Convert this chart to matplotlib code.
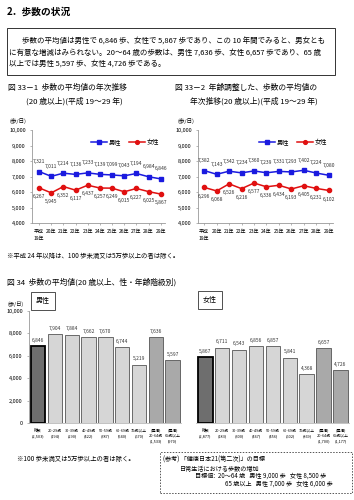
import matplotlib.pyplot as plt
from matplotlib.patches import Rectangle

plt.rcParams['font.family'] = ['Noto Sans CJK JP', 'DejaVu Sans']

# 図33-1 / 33-2 data
years = ['平成\n19年', '20年', '21年', '22年', '23年', '24年', '25年', '26年', '27年', '28年', '29年']
men_raw = [7321, 7011, 7214, 7136, 7233, 7139, 7099, 7043, 7194, 6984, 6846]
women_raw = [6267, 5945, 6352, 6117, 6437, 6257, 6249, 6015, 6227, 6025, 5867]
men_adj = [7382, 7143, 7342, 7234, 7360, 7239, 7331, 7293, 7402, 7224, 7080]
women_adj = [6296, 6068, 6526, 6216, 6577, 6336, 6434, 6193, 6405, 6231, 6102]

# 図34 data
men_groups = ['総数\n(2,503)', '20-29歳\n(194)', '30-39歳\n(290)', '40-49歳\n(422)',
              '50-59歳\n(387)', '60-69歳\n(540)', '70歳以上\n(670)',
              '(再掲)\n20-64歳\n(1,533)', '(再掲)\n65歳以上\n(970)']
women_groups = ['総数\n(2,877)', '20-29歳\n(183)', '30-39歳\n(300)', '40-49歳\n(467)',
                '50-59歳\n(456)', '60-69歳\n(602)', '70歳以上\n(869)',
                '(再掲)\n20-64歳\n(1,700)', '(再掲)\n65歳以上\n(1,177)']
men_steps = [6846, 7904, 7884, 7662, 7670, 6744, 5219, 7636, 5597]
women_steps = [5867, 6711, 6543, 6856, 6857, 5841, 4368, 6657, 4726]

W, H = 354, 500
fig = plt.figure(figsize=(W / 100, H / 100), dpi=100)


def px_axes(l, t, r, b):
    return fig.add_axes([l / W, 1 - b / H, (r - l) / W, (b - t) / H])


def px_text(x, y, s, **kw):
    kw.setdefault('va', 'center')
    fig.text(x / W, 1 - y / H, s, **kw)


def fmt(v):
    return f'{v:,}'


def draw_trend(ax, men, women, first_x):
    x = list(range(len(years)))
    ax.plot(x, men, color='#1a1adf', marker='s', ms=3, lw=1.1, label='男性')
    ax.plot(x, women, color='#e01010', marker='o', ms=3, lw=1.1, label='女性')
    for i in x:
        ax.annotate(fmt(men[i]), (i, men[i]), xytext=(0, 5.5), textcoords='offset points',
                    ha='center', va='bottom', fontsize=3.6, color='#333333')
        ax.annotate(fmt(women[i]), (i, women[i]), xytext=(0, -4.5), textcoords='offset points',
                    ha='center', va='top', fontsize=3.6, color='#333333')
    ax.set_ylim(4000, 10000)
    ax.set_yticks(range(4000, 10001, 1000))
    ax.set_yticklabels([fmt(v) for v in range(4000, 10001, 1000)])
    ax.set_xlim(first_x, 10.35)
    ax.set_xticks(x)
    ax.set_xticklabels(years, linespacing=1.4)
    ax.tick_params(labelsize=4, length=1.5, width=0.5, color='#999999', pad=3)
    ax.tick_params(axis='x', labelsize=3.6)
    for s in ['top', 'right']:
        ax.spines[s].set_visible(False)
    for s in ['left', 'bottom']:
        ax.spines[s].set_color('#999999')
        ax.spines[s].set_linewidth(0.6)
    ax.legend(loc='upper right', bbox_to_anchor=(1.0, 0.97), ncol=2, frameon=False,
              fontsize=4.5, handlelength=2.6, columnspacing=1.2, handletextpad=0.3,
              markerscale=0.9)


def draw_bars(ax, labels, values, show_y):
    x = list(range(len(values)))
    colors = ['#6e6e6e'] + ['#d6d6d6'] * 6 + ['#a9a9a9'] * 2
    edges = ['#000000'] + ['#555555'] * 8
    widths = [1.3] + [0.6] * 8
    ax.bar(x, values, width=0.86, color=colors, edgecolor=edges, linewidth=widths)
    for i, v in zip(x, values):
        ax.annotate(fmt(v), (i, v), xytext=(0, 2.5), textcoords='offset points',
                    ha='center', va='bottom', fontsize=3.5, color='#333333')
    ax.set_ylim(0, 10000)
    ax.set_xlim(-0.55, 8.5)
    ax.set_xticks(x)
    ax.set_xticklabels(labels, fontsize=2.8, linespacing=1.5, va='top')
    ax.tick_params(axis='x', length=0, pad=4)
    for s in ['top', 'right']:
        ax.spines[s].set_visible(False)
    ax.spines['bottom'].set_color('#aaaaaa')
    ax.spines['bottom'].set_linewidth(0.5)
    if show_y:
        ax.set_yticks(range(0, 10001, 2000))
        ax.set_yticklabels([fmt(v) for v in range(0, 10001, 2000)])
        ax.tick_params(axis='y', labelsize=4, length=1.5, width=0.5, color='#999999', pad=3)
        ax.spines['left'].set_color('#999999')
        ax.spines['left'].set_linewidth(0.6)
    else:
        ax.set_yticks([])
        ax.spines['left'].set_visible(False)


# heading and summary box
px_text(7, 12, '2．歩数の状況', fontsize=7, fontweight='bold')
fig.patches.append(Rectangle((7 / W, 1 - 75 / H), (335 - 7) / W, (75 - 28) / H,
                             transform=fig.transFigure, fill=False, ec='#333333', lw=0.7))
px_text(22, 42, '歩数の平均値は男性で 6,846 歩、女性で 5,867 歩であり、この 10 年間でみると、男女とも',
        fontsize=5.4)
px_text(9, 53, 'に有意な増減はみられない。20～64 歳の歩数は、男性 7,636 歩、女性 6,657 歩であり、65 歳',
        fontsize=5.4)
px_text(9, 64, '以上では男性 5,597 歩、女性 4,726 歩である。', fontsize=5.4)

# fig 33 titles
px_text(8, 88, '図 33－1  歩数の平均値の年次推移', fontsize=5.6)
px_text(26, 101, '(20 歳以上)(平成 19～29 年)', fontsize=5.6)
px_text(175, 88, '図 33－2  年齢調整した、歩数の平均値の', fontsize=5.6)
px_text(190, 101, '年次推移(20 歳以上)(平成 19～29 年)', fontsize=5.6)

px_text(10, 121, '(歩/日)', fontsize=4)
px_text(177, 121, '(歩/日)', fontsize=4)

ax1 = px_axes(32, 130, 165, 223)
draw_trend(ax1, men_raw, women_raw, -0.58)
ax2 = px_axes(198, 130, 333, 223)
draw_trend(ax2, men_adj, women_adj, -0.5)

px_text(7, 256, '※平成 24 年以降は、100 歩未満又は5万歩以上の者は除く。', fontsize=4.6)

# fig 34
px_text(7, 282, '図 34  歩数の平均値(20 歳以上、性・年齢階級別)', fontsize=5.6)
px_text(7, 304, '(歩/日)', fontsize=3.8)
px_text(43, 301, '男性', fontsize=5, ha='center',
        bbox=dict(boxstyle='square,pad=0.7', fc='white', ec='#333333', lw=0.6))
px_text(210, 300, '女性', fontsize=5, ha='center',
        bbox=dict(boxstyle='square,pad=0.7', fc='white', ec='#333333', lw=0.6))

ax3 = px_axes(29, 311, 181, 423)
draw_bars(ax3, men_groups, men_steps, True)
ax4 = px_axes(196, 311, 349, 423)
draw_bars(ax4, women_groups, women_steps, False)

px_text(17, 459, '※100 歩未満又は5万歩以上の者は除く。', fontsize=4.6)

fig.patches.append(Rectangle((160 / W, 1 - 493 / H), (352 - 160) / W, (493 - 452) / H,
                             transform=fig.transFigure, fill=False, ec='#555555', lw=0.7,
                             ls=(0, (1.5, 1.5))))
px_text(163, 460, '(参考) 「健康日本21(第二次)」の目標', fontsize=4.4)
px_text(180, 468, '日常生活における歩数の増加', fontsize=4.4)
px_text(195, 476, '目標値:  20～64 歳   男性 9,000 歩   女性 8,500 歩', fontsize=4.4)
px_text(225, 484, '65 歳以上   男性 7,000 歩   女性 6,000 歩', fontsize=4.4)

fig.savefig('out.png', dpi=100)
